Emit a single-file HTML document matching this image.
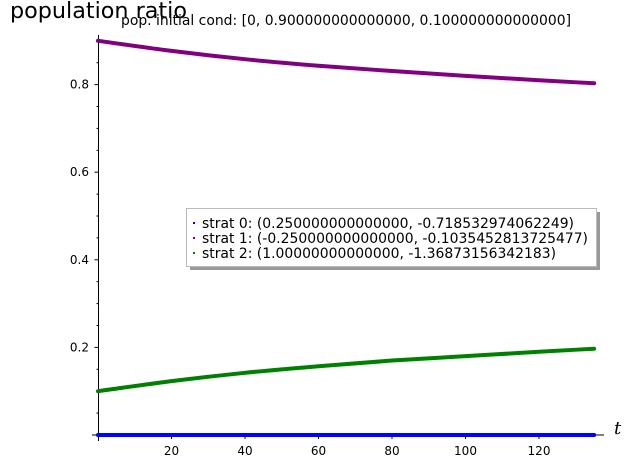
<!DOCTYPE html>
<html><head><meta charset="utf-8"><style>
body{margin:0;background:#fff;}
svg{display:block;font-family:"DejaVu Sans","Liberation Sans",sans-serif;}
</style></head><body>
<svg id="c" width="629" height="469"></svg>
<script>
const tVals=[0,20,40,60,80,100,120,135];
const strat0=[0,0,0,0,0,0,0,0];
const strat1=[0.900,0.877,0.858,0.843,0.831,0.820,0.810,0.803];
const strat2=[0.100,0.123,0.142,0.157,0.170,0.180,0.190,0.197];
const xTicks=[20,40,60,80,100,120];
const yTicks=[0.2,0.4,0.6,0.8];
const colors=["#0000ff","#800080","#008000"];
const ns="http://www.w3.org/2000/svg";
const svg=document.getElementById('c');
const X=t=>98+t*3.675, Y=v=>435-v*438;
function el(tag,attrs,parent){const e=document.createElementNS(ns,tag);for(const k in attrs)e.setAttribute(k,attrs[k]);(parent||svg).appendChild(e);return e;}
let a=el('line',{x1:92,y1:435,x2:604,y2:435,stroke:'#000','stroke-width':1});

a=el('line',{x1:98.5,y1:35,x2:98.5,y2:441,stroke:'#000','stroke-width':1});

for(let t=5;t<=135;t+=5){const major=t%20===0;el('line',{x1:X(t),y1:435,x2:X(t),y2:435+(major?4:2),stroke:'#000','stroke-width':1});}
for(let v=0.05;v<=0.91;v+=0.05){const major=Math.abs(v*10-Math.round(v*10))<1e-6&&Math.round(v*10)%2===0;el('line',{x1:98.5,y1:Y(v),x2:98.5-(major?4:2),y2:Y(v),stroke:'#000','stroke-width':1});}
xTicks.forEach(t=>{const e=el('text',{x:X(t),y:455,'font-size':12,'text-anchor':'middle'});e.textContent=t;
});
yTicks.forEach(v=>{const e=el('text',{x:89,y:Y(v)+4,'font-size':12,'text-anchor':'end'});e.textContent=v.toFixed(1);
});
[strat0,strat1,strat2].forEach((s,i)=>{
 let d='M'+X(tVals[0])+','+Y(s[0]);
 for(let j=1;j<s.length;j++){
  const x0=X(tVals[j-1]),y0=Y(s[j-1]),x1=X(tVals[j]),y1=Y(s[j]);
  const xp=j>1?X(tVals[j-2]):x0-(x1-x0), yp=j>1?Y(s[j-2]):y0-(y1-y0);
  const xn=j<s.length-1?X(tVals[j+1]):x1+(x1-x0), yn=j<s.length-1?Y(s[j+1]):y1+(y1-y0);
  d+='C'+(x0+(x1-xp)/6)+','+(y0+(y1-yp)/6)+' '+(x1-(xn-x0)/6)+','+(y1-(yn-y0)/6)+' '+x1+','+y1;
 }
 const p=el('path',{d:d,fill:'none',stroke:colors[i],'stroke-width':4,'stroke-linecap':'round','stroke-linejoin':'round'});
 
});
let e=el('text',{x:10,y:18,'font-size':22,textLength:177,lengthAdjust:'spacingAndGlyphs'});e.textContent='population ratio';

e=el('text',{x:121,y:25,'font-size':14,textLength:450,lengthAdjust:'spacingAndGlyphs'});e.textContent='pop. initial cond: [0, 0.900000000000000, 0.100000000000000]';

e=el('text',{x:614,y:434,'font-size':18,'font-style':'italic','font-family':'"DejaVu Serif","Liberation Serif",serif'});e.textContent='t';

const g=el('g',{});
el('rect',{x:190,y:212,width:410,height:58,fill:'#999'},g);
el('rect',{x:186.5,y:208.5,width:410,height:58,fill:'#fff',stroke:'#bbb'},g);
const labels=["strat 0: (0.250000000000000, -0.718532974062249)","strat 1: (-0.250000000000000, -0.1035452813725477)","strat 2: (1.00000000000000, -1.36873156342183)"];
const widths=[372,386,354];
labels.forEach((l,i)=>{
 const y=223+i*15;
 el('rect',{x:193,y:y-1,width:2,height:2,fill:colors[i]},g);
 const t=el('text',{x:202,y:y+5,'font-size':14,textLength:widths[i],lengthAdjust:'spacingAndGlyphs'},g);t.textContent=l;
 
});
</script>
</body></html>
